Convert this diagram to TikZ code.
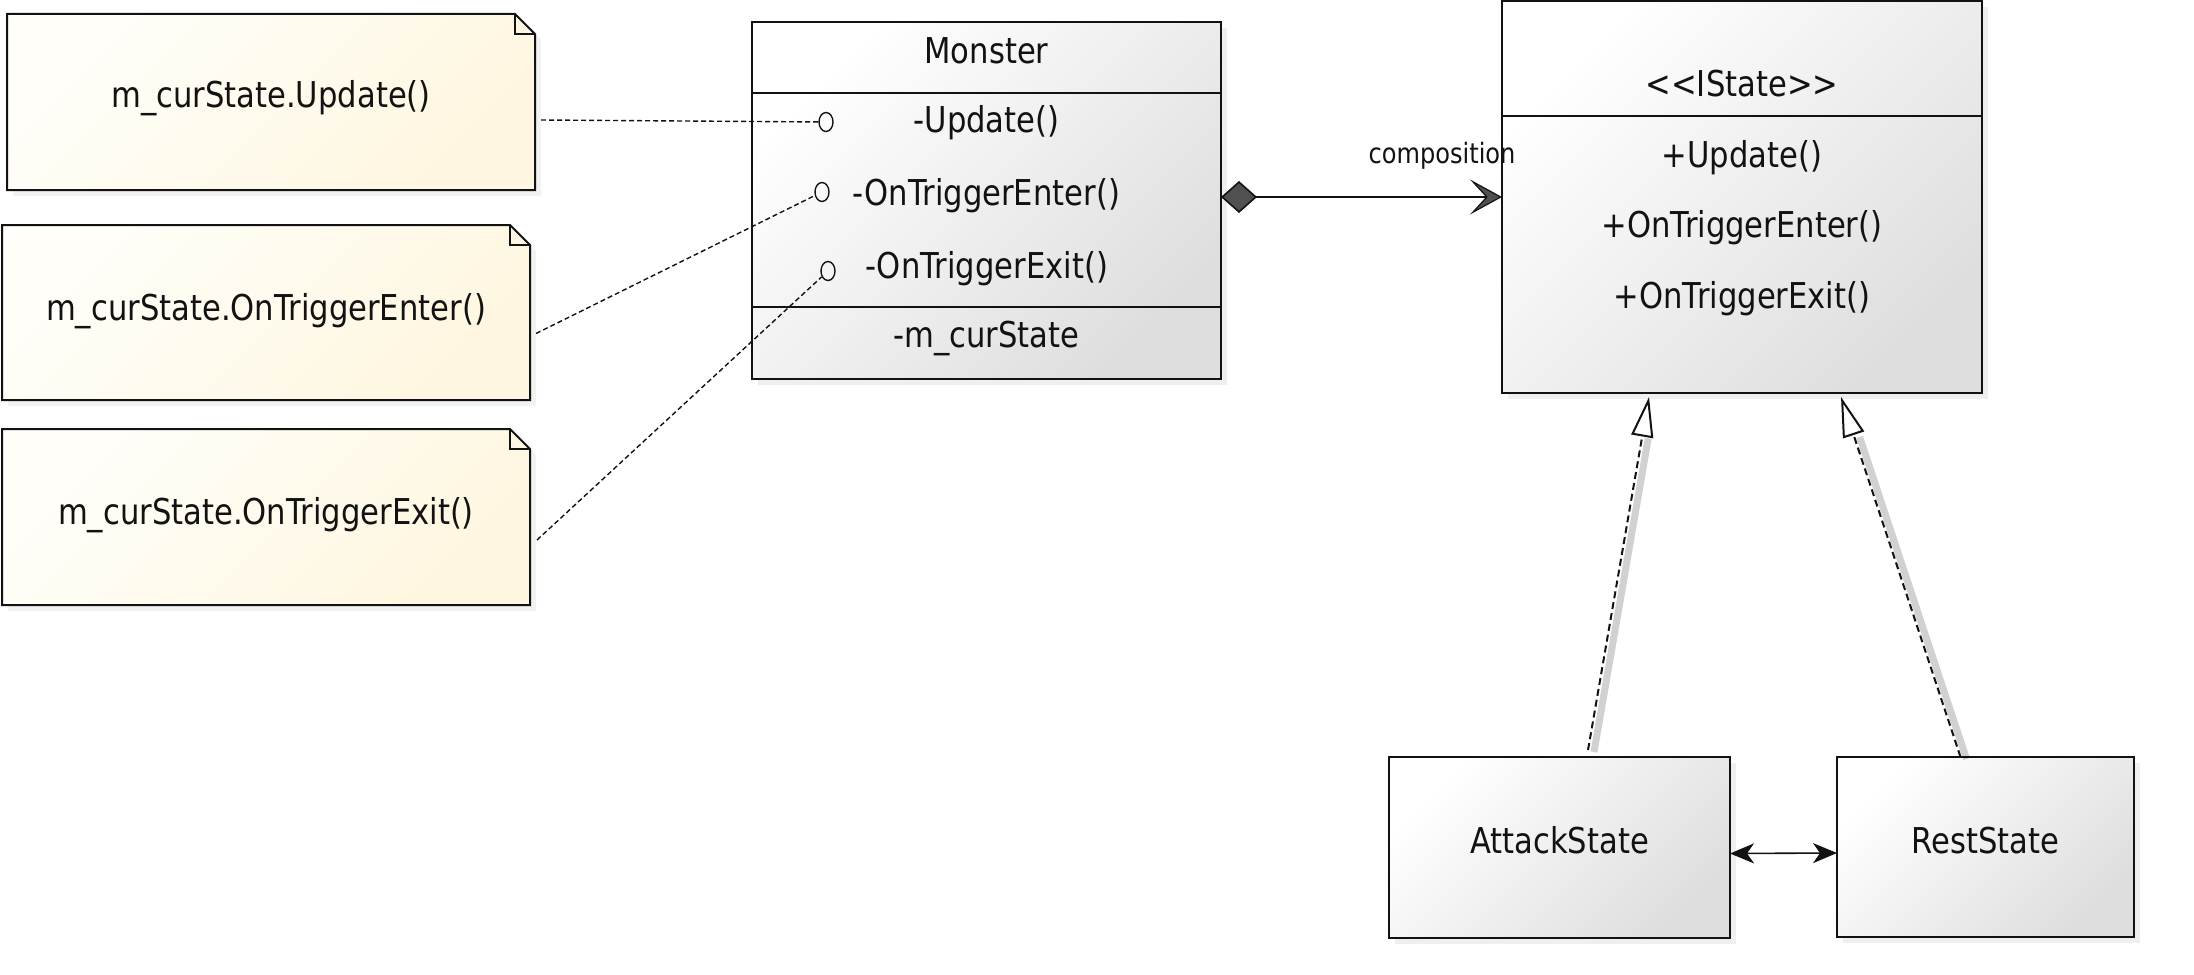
\documentclass[tikz,border=0pt]{standalone}
\usepackage{fontspec}
\setmainfont{DejaVu Sans}[FakeStretch=0.86]
\usetikzlibrary{arrows.meta,shapes.geometric,shadows}
\definecolor{notehi}{RGB}{255,254,249}
\definecolor{notelo}{RGB}{254,246,224}
\definecolor{boxhi}{RGB}{255,255,255}
\definecolor{boxlo}{RGB}{222,222,222}
\definecolor{inkc}{RGB}{18,18,18}
\definecolor{diamc}{RGB}{80,80,80}
\begin{document}
\begin{tikzpicture}[x=0.5pt,y=-0.5pt,
  txt/.style={font=\fontsize{17.8pt}{20pt}\selectfont, inner sep=0pt, text=inkc, anchor=base},
  smalltxt/.style={font=\fontsize{14pt}{16pt}\selectfont, inner sep=0pt, text=inkc, anchor=base},
  classbox/.style={draw=inkc, line width=1pt, inner sep=0pt, outer sep=0pt, anchor=north west,
     top color=boxhi, bottom color=boxlo, shading angle=45,
     drop shadow={shadow xshift=3pt, shadow yshift=-3pt, opacity=0.12}},
  noteframe/.style={inner sep=0pt, outer sep=0pt, anchor=north west},
  notedraw/.style={draw=inkc, line width=1pt, top color=notehi, bottom color=notelo, shading angle=45,
     drop shadow={shadow xshift=3pt, shadow yshift=-3pt, opacity=0.10}},
  foldline/.style={draw=inkc, line width=1pt},
  sepline/.style={draw=inkc, line width=1pt},
  port/.style={ellipse, draw=inkc, line width=0.7pt, minimum width=7pt, minimum height=9.5pt, inner sep=0pt},
  notelink/.style={draw=inkc, line width=0.7pt, dash pattern=on 2.5pt off 1.5pt},
  realize/.style={draw=inkc, line width=1pt, dash pattern=on 3.5pt off 2pt,
     -{Triangle[length=20pt, width=11pt, fill=white, line width=1pt]}},
  lshadow/.style={draw=black, line width=3.5pt, opacity=0.18, shorten >=20pt},
  comp/.style={draw=inkc, line width=0.85pt,
     {Diamond[length=18pt, width=16pt, fill=diamc, line width=0.8pt]}-{Stealth[length=16pt, width=17.5pt, inset=8pt, fill=diamc, line width=0.6pt]}},
  assoc/.style={draw=inkc, line width=0.8pt,
     {Stealth[length=12pt, width=10pt, inset=3.5pt]}-{Stealth[length=12pt, width=10pt, inset=3.5pt]}}
]
\fill[white] (0,0) rectangle (2194,974);
\useasboundingbox (0,0) rectangle (2194,974);

% ---------- notes ----------
\node[noteframe, minimum width=264pt, minimum height=88pt] (n1) at (7,14) {};
\node[noteframe, minimum width=264pt, minimum height=87.5pt] (n2) at (2,225) {};
\node[noteframe, minimum width=264pt, minimum height=88pt] (n3) at (2,429) {};
\foreach \n in {n1,n2,n3}{
  \path[notedraw] (\n.north west) -- ([xshift=-10pt]\n.north east) -- ([yshift=-10pt]\n.north east)
     -- (\n.south east) -- (\n.south west) -- cycle;
  \draw[foldline] ([xshift=-10pt]\n.north east) |- ([yshift=-10pt]\n.north east);
}
\node[txt] (n1t) at (271,107.5) {m\_curState.Update()};
\node[txt] (n2t) at (266,320) {m\_curState.OnTriggerEnter()};
\node[txt] (n3t) at (266,524) {m\_curState.OnTriggerExit()};

% ---------- Monster ----------
\node[classbox, minimum width=234.5pt, minimum height=178.5pt] (monster) at (752,22) {};
\draw[sepline] (monster.west |- 0,93) -- (monster.east |- 0,93);
\draw[sepline] (monster.west |- 0,307) -- (monster.east |- 0,307);
\node[txt] (mname) at (986.5,64) {Monster};
\node[txt] (mupd) at (986.5,133) {-Update()};
\node[txt] (ment) at (986.5,205) {-OnTriggerEnter()};
\node[txt] (mexit) at (986.5,278) {-OnTriggerExit()};
\node[txt] (mattr) at (986.5,347) {-m\_curState};

\node[port] (c1) at (826,122) {};
\node[port] (c2) at (822,192) {};
\node[port] (c3) at (828,271) {};

\coordinate (n1s) at ([xshift=3pt,yshift=-9pt]n1.east);
\coordinate (n2s) at ([xshift=3pt,yshift=-10.5pt]n2.east);
\coordinate (n3s) at ([xshift=3.5pt,yshift=-11.5pt]n3.east);
\draw[notelink] (n1s) -- (c1);
\draw[notelink] (n2s) -- (c2);
\draw[notelink] (n3s) -- (c3);

% ---------- IState ----------
\node[classbox, minimum width=240pt, minimum height=196pt] (istate) at (1502,1) {};
\draw[sepline] (istate.west |- 0,116) -- (istate.east |- 0,116);
\node[txt] (iname) at (1742,97) {<{}<IState>{}>};
\node[txt] (iupd) at (1742,167) {+Update()};
\node[txt] (ient) at (1742,237) {+OnTriggerEnter()};
\node[txt] (iexit) at (1742,308) {+OnTriggerExit()};

% ---------- composition ----------
\draw[comp] (monster.east |- istate.west) -- (istate.west);
\node[smalltxt] (clab) at (1442,163) {composition};

% ---------- states ----------
\node[classbox, minimum width=170.5pt, minimum height=90.5pt] (attack) at (1389,757) {};
\node[classbox, minimum width=148.5pt, minimum height=90pt] (rest) at (1837,757) {};
\node[txt] (atxt) at (1559.5,853) {AttackState};
\node[txt] (rtxt) at (1985.5,853) {RestState};

\draw[assoc] ([yshift=-3pt]attack.east) -- ([yshift=-3pt]rest.west);

% ---------- realizations ----------
\coordinate (ra1) at ([xshift=14.25pt,yshift=3.5pt]attack.north);
\coordinate (ra2) at ([xshift=-46.5pt,yshift=-2pt]istate.south);
\coordinate (rr1) at ([xshift=-12.5pt]rest.north);
\coordinate (rr2) at ([xshift=49.5pt,yshift=-2pt]istate.south);
\draw[lshadow] ([xshift=3pt,yshift=-1pt]ra1) -- ([xshift=3pt,yshift=-1pt]ra2);
\draw[lshadow] ([xshift=3pt,yshift=-1pt]rr1) -- ([xshift=3pt,yshift=-1pt]rr2);
\draw[realize] (ra1) -- (ra2);
\draw[realize] (rr1) -- (rr2);
\end{tikzpicture}
\end{document}
